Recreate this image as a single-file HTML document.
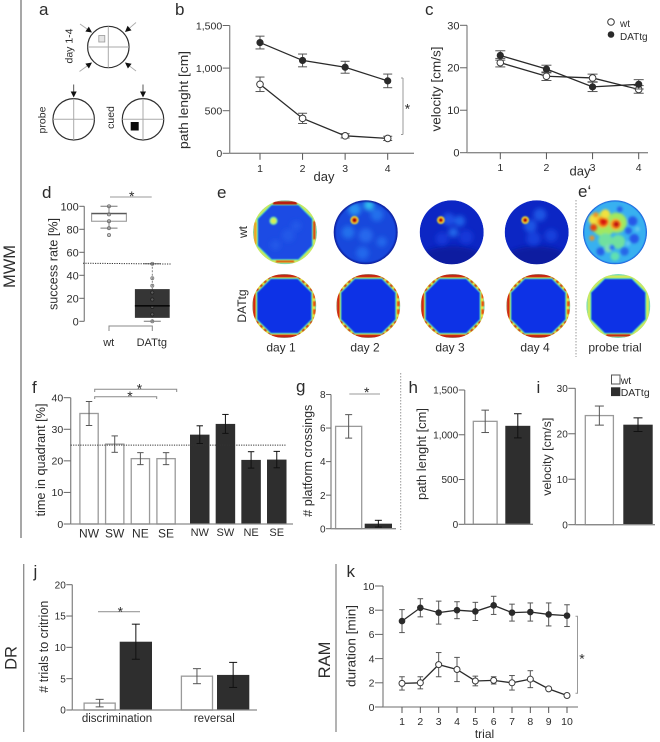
<!DOCTYPE html>
<html>
<head>
<meta charset="utf-8">
<title>Behavioural test panels</title>
<style>
html,body{margin:0;padding:0;background:#fff;}
#fig{display:block;width:660px;height:742px;filter:blur(0.3px);}
text{font-family:"Liberation Sans",sans-serif;fill:#2c2c2c;}
</style>
</head>
<body>
<svg id="fig" xmlns="http://www.w3.org/2000/svg" width="660" height="742" viewBox="0 0 660 742">
<defs>
<filter id="blurXS" x="-50%" y="-50%" width="200%" height="200%"><feGaussianBlur stdDeviation="0.4"/></filter>
<filter id="blurS" x="-20%" y="-20%" width="140%" height="140%"><feGaussianBlur stdDeviation="0.7"/></filter>
<filter id="blurM" x="-50%" y="-50%" width="200%" height="200%"><feGaussianBlur stdDeviation="1.3"/></filter>
<filter id="blurL" x="-50%" y="-50%" width="200%" height="200%"><feGaussianBlur stdDeviation="2.4"/></filter>
</defs>
</svg>
<script>
// ---- panel b: path length
const bDays = ['1','2','3','4'];
const bTicks = [0,500,1000,1500];
const bTickLabels = ['0','500','1,000','1,500'];
const bWt = [810,410,205,175];
const bWtErr = [85,60,25,25];
const bTg = [1300,1090,1010,850];
const bTgErr = [75,75,70,80];
// ---- panel c: velocity
const cDays = ['1','2','3','4'];
const cTicks = [0,10,20,30];
const cTickLabels = ['0','10','20','30'];
const cWt = [21.2,18,17.6,14.9];
const cWtErr = [1,1,0.9,0.9];
const cTg = [22.9,19.7,15.5,16.1];
const cTgErr = [1.1,0.9,1.1,1.1];
// ---- panel d: success rate
const dTicks = [0,20,40,60,80,100];
const dTickLabels = ['0','20','40','60','80','100'];
const dGroups = ['wt','DATtg'];
const dWtPoints = [100,93,87,81,75];
const dTgPoints = [50,37.5,31,25,19,12.5,6,0];
const dWtBox = [87,93.5,94];
const dTgBox = [3,13.5,28];
const dWtWhisker = [81,100];
const dTgWhisker = [0,50];
const dChance = 50.5;
// ---- panel f: time in quadrant
const fTicks = [0,10,20,30,40];
const fTickLabels = ['0','10','20','30','40'];
const fQuadrants = ['NW','SW','NE','SE'];
const fWt = [35,25.3,20.7,20.7];
const fWtErr = [3.8,2.6,1.9,1.9];
const fTg = [28.3,31.7,20.3,20.4];
const fTgErr = [2.8,3,2.6,2.6];
const fChance = 25;
// ---- panel g: platform crossings
const gTicks = [0,2,4,6,8];
const gTickLabels = ['0','2','4','6','8'];
const gValues = [6.1,0.3];
const gErr = [0.7,0.2];
// ---- panel h: path length probe
const hTicks = [0,500,1000,1500];
const hTickLabels = ['0','500','1,000','1,500'];
const hValues = [1150,1100];
const hErr = [125,135];
// ---- panel i: velocity probe
const iTicks = [0,10,20,30];
const iTickLabels = ['0','10','20','30'];
const iValues = [24,22];
const iErr = [2.1,1.5];
// ---- panel j: trials to criterion
const jTicks = [0,5,10,15,20];
const jTickLabels = ['0','5','10','15','20'];
const jGroups = ['discrimination','reversal'];
const jWt = [1.1,5.4];
const jWtErr = [0.6,1.2];
const jTg = [10.9,5.6];
const jTgErr = [2.8,2];
// ---- panel k: duration
const kTrials = ['1','2','3','4','5','6','7','8','9','10'];
const kTicks = [0,2,4,6,8,10];
const kTickLabels = ['0','2','4','6','8','10'];
const kWt = [1.95,2,3.5,3.1,2.15,2.2,2,2.3,1.5,0.95];
const kWtErr = [0.55,0.5,1,1,0.4,0.3,0.6,0.7,0,0];
const kTg = [7.1,8.2,7.8,8,7.9,8.4,7.8,7.85,7.65,7.55];
const kTgErr = [0.95,0.75,0.95,0.7,0.75,0.75,0.7,0.75,0.95,0.9];
// ---- panel e: occupancy heat map hot spots (relative position, spread, colour level)
const eRows = ['wt','DATtg'];
const eColumns = ['day 1','day 2','day 3','day 4','probe trial'];
const eWtDay1Spots = [[0.1,0.1,0.2,'#2458e8'],[-0.3,0.4,0.16,'#2458e8'],[0.35,-0.2,0.16,'#2458e8'],[-0.36,-0.36,0.13,'#78e0a0'],[-0.36,-0.36,0.08,'#d8f050']];
const eWtDay2Spots = [[0.1,-0.85,0.16,'#30c0f0'],[-0.35,-0.72,0.2,'#2890f0'],[0.35,-0.55,0.2,'#2470ec'],[-0.55,0.0,0.2,'#2470ec'],[0.0,0.1,0.22,'#2868ec'],[0.5,0.3,0.16,'#2468ec'],[-0.1,0.65,0.2,'#2468ec'],[-0.35,-0.38,0.13,'#f0e030'],[-0.35,-0.38,0.085,'#e02010'],[-0.35,-0.38,0.04,'#700000']];
const eWtDay3Spots = [[0.25,-0.35,0.17,'#1f60e8'],[0.05,-0.0,0.15,'#2468ea'],[-0.3,0.2,0.2,'#1438d8'],[0.45,0.15,0.22,'#1438d8'],[-0.1,-0.4,0.2,'#1a50e4'],[-0.34,-0.38,0.12,'#f0e030'],[-0.34,-0.38,0.075,'#e02010'],[-0.34,-0.38,0.035,'#700000']];
const eWtDay4Spots = [[0.1,-0.55,0.2,'#1c54e4'],[-0.2,-0.2,0.2,'#1c54e4'],[0.45,0.1,0.2,'#1840dc'],[-0.1,0.2,0.22,'#1840dc'],[-0.36,-0.38,0.12,'#f0e030'],[-0.36,-0.38,0.075,'#e02010'],[-0.36,-0.38,0.035,'#700000']];
const eWtProbeSpots = [[-0.35,-0.25,0.38,'#a0e860'],[0.05,-0.3,0.32,'#a0e860'],[-0.3,0.25,0.22,'#70e0a0'],[0.1,0.3,0.22,'#70e0a0'],[-0.2,0.5,0.13,'#80e0b0'],[0.0,0.75,0.14,'#60e0b0'],[-0.65,-0.4,0.17,'#f0e040'],[-0.3,-0.58,0.14,'#f0e040'],[-0.38,-0.33,0.19,'#f8a020'],[-0.36,-0.33,0.11,'#d81808'],[0.02,-0.25,0.17,'#f8a020'],[0.04,-0.25,0.09,'#c01008'],[-0.67,-0.15,0.11,'#e84010'],[-0.72,0.18,0.08,'#f09020'],[-0.6,-0.55,0.08,'#f09020'],[0.55,-0.35,0.15,'#2858e8'],[0.6,0.2,0.15,'#2858e8'],[0.42,-0.05,0.11,'#2860e8'],[-0.45,0.6,0.13,'#2860e8'],[0.3,0.6,0.13,'#2868e8'],[0.15,-0.72,0.09,'#2860e8'],[-0.1,0.48,0.08,'#2a70f0'],[0.7,-0.1,0.08,'#60c8f0'],[0.4,0.35,0.08,'#60c8f0']];
const eTgRingTop = [1,1,1,1,0.45];

const svg = document.getElementById('fig');
const NS = 'http://www.w3.org/2000/svg';
const INK = '#2a2a2a', AXIS = '#8a8a8a', ERR = '#555', BAR = '#2e2e2e', BARLINE = '#9a9a9a';

function mk(tag, attrs, name, parent) {
  const el = document.createElementNS(NS, tag);
  for (const k in attrs) el.setAttribute(k, attrs[k]);
  
  
  (parent || svg).appendChild(el);
  return el;
}
function line(x1, y1, x2, y2, stroke, w, name, parent, dash) {
  const a = {x1, y1, x2, y2, stroke, 'stroke-width': w};
  if (dash) a['stroke-dasharray'] = dash;
  return mk('line', a, name, parent);
}
function label(x, y, str, size, anchor, name, rot, parent) {
  const a = {x, y, 'font-size': size, 'text-anchor': anchor || 'middle'};
  if (rot) a.transform = 'rotate(' + rot + ' ' + x + ' ' + y + ')';
  const el = mk('text', a, name, parent);
  el.textContent = str;
  return el;
}
function ytitle(x, y, str, size, name, tl) {
  const el = label(x, y, str, size, 'middle', name, -90);
  if (tl) { el.setAttribute('textLength', tl); el.setAttribute('lengthAdjust', 'spacingAndGlyphs'); }
  return el;
}
function scale(d0, d1, r0, r1) { return v => r0 + (v - d0) * (r1 - r0) / (d1 - d0); }

function yAxis(x, y, ticks, labels, len, size, name) {
  const vals = ticks.map(y);
  const g = mk('g', {}, name);
  line(x, Math.min.apply(null, vals), x, Math.max.apply(null, vals), AXIS, 1.3, name + '-line', g);
  ticks.forEach((t, i) => {
    line(x - len, y(t), x, y(t), '#666', 1, name + '-tick', g);
    label(x - len - 0.5, y(t) + size * 0.36, labels[i], size, 'end', name + '-tick-label', 0, g);
  });
}
function xAxisLine(x0, x1, y, name) { line(x0, y, x1, y, AXIS, 1.3, name); }
function xTicks(x, labels, y0, len, baseline, size, name) {
  labels.forEach((t, i) => {
    line(x(i), y0, x(i), y0 + len, '#555', 1, name + '-tick');
    label(x(i), baseline, t, size, 'middle', name + '-tick-label');
  });
}
function errorBar(cx, top, bot, cap, name, color, g) {
  line(cx, top, cx, bot, color || ERR, 1, name + '-error', g);
  line(cx - cap, top, cx + cap, top, color || ERR, 1, name + '-error-cap', g);
  line(cx - cap, bot, cx + cap, bot, color || ERR, 1, name + '-error-cap', g);
}
function lineSeries(x, y, vals, errs, fill, r, cap, name) {
  const g = mk('g', {}, name);
  vals.forEach((v, i) => { if (errs[i] > 0) errorBar(x(i), y(v + errs[i]), y(v - errs[i]), cap, name, ERR, g); });
  mk('polyline', {points: vals.map((v, i) => x(i) + ',' + y(v)).join(' '), fill: 'none', stroke: INK, 'stroke-width': 1.3}, name + '-line', g);
  vals.forEach((v, i) => {
    mk('circle', {cx: x(i), cy: y(v), r, fill, stroke: fill === '#fff' ? '#3a3a3a' : '#2a2a2a', 'stroke-width': fill === '#fff' ? 1 : 0.6}, name + '-point', g);
  });
}
function bar(x0, x1, y, v, err, dark, cap, name) {
  const top = y(v), base = y(0);
  const g = mk('g', {}, name);
  if (dark) mk('rect', {x: x0, y: top, width: x1 - x0, height: base - top, fill: BAR}, name + '-rect', g);
  else mk('rect', {x: x0 + 0.6, y: top, width: x1 - x0 - 1.2, height: base - top, fill: '#fff', stroke: BARLINE, 'stroke-width': 1.3}, name + '-rect', g);
  errorBar((x0 + x1) / 2, y(v + err), y(v - err), cap, name, dark ? '#111' : ERR, g);
}
function sigLine(x0, x1, y, sx, sy, size, name) {
  line(x0, y, x1, y, '#999', 1.1, name);
  label(sx, sy, '*', size, 'middle', name + '-star');
}
function panelLetter(x, y, s) { label(x, y, s, 17, 'start', 'panel-letter-' + s.charAt(0)); }

// ---------- section rules and names
line(21, 0, 21, 538, '#8a8a8a', 1.5, 'mwm-section-rule');
line(23.7, 564, 23.7, 732, '#8a8a8a', 1.3, 'dr-section-rule');
line(336, 564, 336, 732, '#8a8a8a', 1.3, 'ram-section-rule');
label(15, 266.5, 'MWM', 16.5, 'middle', 'mwm-section-label', -90);
label(16.7, 658, 'DR', 16.5, 'middle', 'dr-section-label', -90);
label(330, 660, 'RAM', 16.5, 'middle', 'ram-section-label', -90);

panelLetter(39, 15, 'a'); panelLetter(175, 15, 'b'); panelLetter(425, 15, 'c');
panelLetter(42, 198, 'd'); panelLetter(217, 198, 'e'); panelLetter(578, 197, 'e‘');
panelLetter(32, 393, 'f'); panelLetter(296, 392, 'g'); panelLetter(408.5, 393, 'h');
panelLetter(536.5, 393, 'i'); panelLetter(33.5, 577, 'j'); panelLetter(346.5, 577, 'k');

// ---------- panel a schematic
function maze(cx, cy, name) {
  const g = mk('g', {}, name);
  mk('circle', {cx, cy, r: 20.7, fill: '#fff', stroke: '#2e2e2e', 'stroke-width': 1.2}, name + '-circle', g);
  line(cx - 20.7, cy, cx + 20.7, cy, '#aaa', 1, name + '-cross-h', g);
  line(cx, cy - 20.7, cx, cy + 20.7, '#aaa', 1, name + '-cross-v', g);
}
function arrow(x0, y0, x1, y1, name) {
  const dx = x1 - x0, dy = y1 - y0, l = Math.hypot(dx, dy), ux = dx / l, uy = dy / l;
  const bx = x1 - ux * 6, by = y1 - uy * 6;
  line(x0, y0, bx, by, dx !== 0 ? '#aaa' : '#444', 0.9, name + '-shaft');
  mk('polygon', {points: x1 + ',' + y1 + ' ' + (bx - uy * 3) + ',' + (by + ux * 3) + ' ' + (bx + uy * 3) + ',' + (by - ux * 3), fill: '#111'}, name + '-head');
}
maze(108.3, 47, 'training-maze');
maze(73.7, 119.3, 'probe-maze');
maze(143, 119.3, 'cued-maze');
mk('rect', {x: 98.8, y: 35.5, width: 6, height: 6.5, fill: '#e4e4e4', stroke: '#999', 'stroke-width': 0.8}, 'hidden-platform');
mk('rect', {x: 130.7, y: 122, width: 8, height: 8.5, fill: '#0a0a0a'}, 'cued-platform');
arrow(80, 24, 92, 32.5, 'start-arrow-nw');
arrow(136, 22.5, 125, 32, 'start-arrow-ne');
arrow(79.5, 71.5, 92, 62.5, 'start-arrow-sw');
arrow(136, 71, 125, 62.5, 'start-arrow-se');
arrow(73.7, 84.5, 73.7, 97.5, 'probe-arrow');
arrow(143, 84.5, 143, 97.5, 'cued-arrow');
label(72.5, 46, 'day 1-4', 10.5, 'middle', 'training-label', -90);
label(45.5, 120, 'probe', 10.5, 'middle', 'probe-label', -90);
label(114, 117.5, 'cued', 10.5, 'middle', 'cued-label', -90);

// ---------- panel b
(function () {
  const y = scale(0, 1500, 153.3, 25.5);
  const x = scale(0, 3, 260, 387.7);
  yAxis(229.7, y, bTicks, bTickLabels, 7, 10.5, 'path-y-axis');
  xAxisLine(229.7, 414, 153.3, 'path-x-axis');
  xTicks(x, bDays, 153.3, 6.5, 172, 10.5, 'path-x-axis');
  lineSeries(x, y, bWt, bWtErr, '#fff', 3.3, 4.5, 'path-series-wt');
  lineSeries(x, y, bTg, bTgErr, '#2a2a2a', 3.3, 4.5, 'path-series-dattg');
  ytitle(188, 100, 'path lenght [cm]', 13, 'path-y-title', 98);
  label(324, 181, 'day', 13, 'middle', 'path-x-title');
  line(401, 78, 403, 78, '#999', 1, 'path-bracket-top');
  line(401, 134.5, 403, 134.5, '#999', 1, 'path-bracket-bottom');
  line(403, 78, 403, 134.5, '#999', 1, 'path-bracket');
  label(407.5, 113.7, '*', 14, 'middle', 'path-significance-star');
})();

// ---------- panel c
(function () {
  const y = scale(0, 30, 152.7, 25.3);
  const x = scale(0, 3, 500.3, 638.7);
  yAxis(467, y, cTicks, cTickLabels, 7, 11, 'velocity-y-axis');
  xAxisLine(467, 648, 152.7, 'velocity-x-axis');
  xTicks(x, cDays, 152.7, 6.5, 171, 10.5, 'velocity-x-axis');
  lineSeries(x, y, cWt, cWtErr, '#fff', 3.3, 5, 'velocity-series-wt');
  lineSeries(x, y, cTg, cTgErr, '#2a2a2a', 3.3, 5, 'velocity-series-dattg');
  ytitle(440.5, 89, 'velocity [cm/s]', 13, 'velocity-y-title', 85);
  label(569.5, 175.5, 'day', 13, 'start', 'velocity-x-title');
  mk('circle', {cx: 611, cy: 22, r: 3.3, fill: '#fff', stroke: '#333', 'stroke-width': 1}, 'legend-marker-wt');
  mk('circle', {cx: 611, cy: 34.5, r: 3.3, fill: '#2a2a2a'}, 'legend-marker-dattg');
  label(620, 27, 'wt', 10, 'start', 'legend-label-wt');
  label(620, 40, 'DATtg', 10, 'start', 'legend-label-dattg');
})();

// ---------- panel d
(function () {
  const y = scale(0, 100, 321.3, 206.3);
  const x = scale(0, 1, 109, 152.3);
  yAxis(84.3, y, dTicks, dTickLabels, 5, 11, 'success-y-axis');
  // whiskers
  line(x(0), y(dWtWhisker[0]), x(0), y(dWtWhisker[1]), '#777', 0.9, 'success-whisker-wt');
  line(x(0) - 8.5, y(dWtWhisker[0]), x(0) + 8.5, y(dWtWhisker[0]), '#777', 1, 'success-whisker-cap-wt');
  line(x(0) - 8.5, y(dWtWhisker[1]), x(0) + 8.5, y(dWtWhisker[1]), '#777', 1, 'success-whisker-cap-wt');
  line(x(1), y(dTgWhisker[0]), x(1), y(dTgWhisker[1]), '#777', 0.9, 'success-whisker-dattg', null, '2 1.5');
  line(x(1) - 8.5, y(dTgWhisker[0]), x(1) + 8.5, y(dTgWhisker[0]), '#777', 1, 'success-whisker-cap-dattg');
  line(x(1) - 8.5, y(dTgWhisker[1]), x(1) + 8.5, y(dTgWhisker[1]), '#777', 1, 'success-whisker-cap-dattg');
  // boxes
  mk('rect', {x: x(0) - 17.4, y: y(dWtBox[2]), width: 34.8, height: y(dWtBox[0]) - y(dWtBox[2]), fill: '#fff', stroke: '#999', 'stroke-width': 1.1}, 'success-box-wt');
  line(x(0) - 17.4, y(dWtBox[1]), x(0) + 17.4, y(dWtBox[1]), '#444', 1, 'success-median-wt');
  mk('rect', {x: x(1) - 17.4, y: y(dTgBox[2]), width: 34.8, height: y(dTgBox[0]) - y(dTgBox[2]), fill: '#353535'}, 'success-box-dattg');
  dWtPoints.forEach(v => mk('circle', {cx: x(0), cy: y(v), r: 1.6, fill: 'rgba(150,150,150,0.6)', stroke: '#666', 'stroke-width': 0.7}, 'success-point-wt'));
  dTgPoints.forEach(v => mk('circle', {cx: x(1), cy: y(v), r: 1.6, fill: 'rgba(130,130,130,0.5)', stroke: v < dTgBox[2] && v > dTgBox[0] ? '#1c1c1c' : '#777', 'stroke-width': 0.7}, 'success-point-dattg'));
  line(x(1) - 17.4, y(dTgBox[1]), x(1) + 17.4, y(dTgBox[1]), '#080808', 1.6, 'success-median-dattg');
  line(83, y(dChance), 171.7, y(dChance) + 0.8, '#333', 1, 'success-chance-line', null, '1.2 1.2');
  sigLine(110, 151.7, 197, 131.7, 201, 14, 'success-significance');
  mk('polyline', {points: x(0) + ',331 ' + x(0) + ',326 ' + x(1) + ',326 ' + x(1) + ',331', fill: 'none', stroke: '#888', 'stroke-width': 1}, 'success-group-bracket');
  label(x(0) - 0.3, 346, dGroups[0], 11, 'middle', 'success-group-label-wt');
  label(x(1) - 0.5, 346, dGroups[1], 11, 'middle', 'success-group-label-dattg');
  ytitle(57.5, 264, 'success rate [%]', 12.5, 'success-y-title', 92);
})();

// ---------- panel e heat maps
let clipCount = 0;
function heatClip(cx, cy, r) {
  const id = 'hc' + (clipCount++);
  const cp = document.createElementNS(NS, 'clipPath');
  cp.setAttribute('id', id);
  const c = document.createElementNS(NS, 'circle');
  c.setAttribute('cx', cx); c.setAttribute('cy', cy); c.setAttribute('r', r);
  cp.appendChild(c);
  svg.querySelector('defs').appendChild(cp);
  return id;
}
function octo(cx, cy, a, b) {
  const p = [[-b,-a],[b,-a],[a,-b],[a,b],[b,a],[-b,a],[-a,b],[-a,-b]];
  return p.map(q => (cx + q[0]) + ',' + (cy + q[1])).join(' ');
}
function wallRing(g, cx, cy, r, level, interior) {
  mk('circle', {cx, cy, r, fill: '#74dcbc'}, 'heatmap-rim', g);
  const wallColor = level > 0.5 ? '#f0e834' : '#d4ea54';
  mk('polygon', {points: octo(cx, cy, r * 0.955, r * 0.45), fill: wallColor, filter: 'url(#blurXS)'}, 'heatmap-wall-halo', g);
  const hot = mk('g', {filter: 'url(#blurXS)'}, 'heatmap-wall-hot', g);
  const a = r * 0.94, b = r * 0.4;
  if (level >= 1) {
    line(cx - b, cy - a, cx + b, cy - a, '#c81c0c', 3, 'heatmap-wall-top', hot);
    line(cx - b, cy + a, cx + b, cy + a, '#c81c0c', 3, 'heatmap-wall-bottom', hot);
    line(cx - a, cy - b, cx - a, cy + b, '#d4240c', 2.8, 'heatmap-wall-left', hot);
    line(cx + a, cy - b, cx + a, cy + b, '#e85010', 2.6, 'heatmap-wall-right', hot, '5 3');
    const d = [[1, -1], [1, 1], [-1, 1], [-1, -1]];
    d.forEach(q => line(cx + q[0] * (b + 1), cy + q[1] * (a - 1), cx + q[0] * (a - 1), cy + q[1] * (b + 1), '#d02c0c', 2.3, 'heatmap-wall-corner', hot, '3 2.6'));
  }
  mk('polygon', {points: octo(cx, cy, r * 0.875, r * 0.43), fill: '#58dcc0', filter: 'url(#blurXS)'}, 'heatmap-inner-edge', g);
  mk('polygon', {points: octo(cx, cy, r * 0.84, r * 0.415), fill: interior, filter: 'url(#blurXS)'}, 'heatmap-interior', g);
}
function spots(g, cx, cy, r, list, f, fineFilter) {
  const big = mk('g', {filter: 'url(#' + f + ')'}, 'heatmap-spots-diffuse', g);
  const fine = mk('g', {filter: 'url(#' + fineFilter + ')'}, 'heatmap-spots-sharp', g);
  list.forEach(s => mk('circle', {cx: cx + s[0] * r, cy: cy + s[1] * r, r: s[2] * r, fill: s[3]}, 'heatmap-spot', s[2] > 0.14 ? big : fine));
}
function heatmap(cx, cy, name, kind, list) {
  const r = 32;
  const g = mk('g', {'clip-path': 'url(#' + heatClip(cx, cy, r) + ')'}, name);
  if (kind === 'tg' || kind === 'tgprobe') {
    wallRing(g, cx, cy, r, kind === 'tg' ? 1 : 0.4, '#0c30e6');
    if (kind === 'tgprobe') {
      mk('rect', {x: cx - 12, y: cy + r * 0.885, width: 24, height: 2.2, fill: '#c81c0c', filter: 'url(#blurXS)'}, 'heatmap-wall-hotspot', g);
    }
  } else if (kind === 'wall') {
    wallRing(g, cx, cy, r, 0, '#1a4ce4');
    mk('rect', {x: cx - 12, y: cy - r + 1, width: 24, height: 3.2, fill: '#b81808', filter: 'url(#blurXS)'}, 'heatmap-wall-hotspot', g);
    mk('rect', {x: cx + r * 0.88, y: cy - 11, width: 2.2, height: 18, fill: '#d83c10', filter: 'url(#blurXS)'}, 'heatmap-wall-hotspot', g);
    mk('rect', {x: cx - r * 0.97, y: cy - 10, width: 2.4, height: 22, fill: '#f0a020', filter: 'url(#blurXS)'}, 'heatmap-wall-hotspot', g);
    mk('rect', {x: cx - 9, y: cy + r * 0.88, width: 18, height: 2, fill: '#e06010', filter: 'url(#blurXS)'}, 'heatmap-wall-hotspot', g);
    spots(g, cx, cy, r, list, 'blurL', 'blurS');
  } else if (kind === 'bright') {
    mk('circle', {cx, cy, r, fill: '#1848dc'}, 'heatmap-field', g);
    spots(g, cx, cy, r, list, 'blurL', 'blurS');
    mk('circle', {cx, cy, r: r - 0.5, fill: 'none', stroke: '#0a1c98', 'stroke-width': 2, filter: 'url(#blurS)'}, 'heatmap-edge', g);
  } else if (kind === 'dark') {
    mk('circle', {cx, cy, r, fill: '#0c26c4'}, 'heatmap-field', g);
    mk('ellipse', {cx, cy: cy + 26, rx: 32, ry: 12, fill: '#0a1ca0', filter: 'url(#blurL)'}, 'heatmap-low-zone', g);
    spots(g, cx, cy, r, list, 'blurL', 'blurS');
  } else {
    mk('circle', {cx, cy, r, fill: '#38b0f0'}, 'heatmap-field', g);
    spots(g, cx, cy, r, list, 'blurM', 'blurM');
    mk('circle', {cx, cy, r: r - 0.4, fill: 'none', stroke: '#1848d8', 'stroke-width': 1.2, filter: 'url(#blurXS)'}, 'heatmap-edge', g);
  }
}
heatmap(285, 232.3, 'heatmap-wt-day1', 'wall', eWtDay1Spots);
heatmap(365.7, 232.3, 'heatmap-wt-day2', 'bright', eWtDay2Spots);
heatmap(451.7, 232.3, 'heatmap-wt-day3', 'dark', eWtDay3Spots);
heatmap(536.7, 232.3, 'heatmap-wt-day4', 'dark', eWtDay4Spots);
heatmap(615, 232.3, 'heatmap-wt-probe', 'probe', eWtProbeSpots);
heatmap(284.3, 306, 'heatmap-dattg-day1', 'tg', []);
heatmap(368.3, 306, 'heatmap-dattg-day2', 'tg', []);
heatmap(452.7, 306, 'heatmap-dattg-day3', 'tg', []);
heatmap(538.3, 306, 'heatmap-dattg-day4', 'tg', []);
heatmap(618.3, 306, 'heatmap-dattg-probe', 'tgprobe', []);
const eLabelX = [281, 365, 450, 535, 615];
eColumns.forEach((c, i) => label(eLabelX[i], 351.5, c, 12, 'middle', 'heatmap-column-label'));
label(247, 232, eRows[0], 12, 'middle', 'heatmap-row-label-wt', -90);
label(246, 306, eRows[1], 12, 'middle', 'heatmap-row-label-dattg', -90);
line(576, 200, 576, 357, '#999', 1, 'probe-separator', null, '1.5 1.5');

// ---------- panel f
(function () {
  const y = scale(0, 40, 524, 397.7);
  const xw = i => 79.3 + i * 25.67, xt = i => 190 + i * 25.67, w = 19.5;
  yAxis(70.7, y, fTicks, fTickLabels, 7, 10.5, 'quadrant-y-axis');
  fWt.forEach((v, i) => bar(xw(i), xw(i) + w, y, v, fWtErr[i], false, 3.2, 'quadrant-bar-wt-' + fQuadrants[i].toLowerCase()));
  fTg.forEach((v, i) => bar(xt(i), xt(i) + w, y, v, fTgErr[i], true, 3.2, 'quadrant-bar-dattg-' + fQuadrants[i].toLowerCase()));
  xAxisLine(70.7, 293, 524, 'quadrant-x-axis');
  line(70.7, y(fChance), 286, y(fChance), '#333', 1, 'quadrant-chance-line', null, '1.2 1.2');
  fQuadrants.forEach((q, i) => {
    label(xw(i) + w / 2, 537.5, q, 12, 'middle', 'quadrant-label-wt');
    label(xt(i) + w / 2, 536, q, 11, 'middle', 'quadrant-label-dattg');
  });
  mk('polyline', {points: '94.7,392 94.7,389.3 176.7,389.3 176.7,392', fill: 'none', stroke: '#888', 'stroke-width': 1}, 'quadrant-bracket-se');
  mk('polyline', {points: '94.7,399 94.7,396.7 156.7,396.7 156.7,399', fill: 'none', stroke: '#888', 'stroke-width': 1}, 'quadrant-bracket-ne');
  label(139.5, 393.7, '*', 14, 'middle', 'quadrant-star-se');
  label(130, 401, '*', 14, 'middle', 'quadrant-star-ne');
  ytitle(45, 460, 'time in quadrant [%]', 12.5, 'quadrant-y-title', 113);
})();

// ---------- panel g
(function () {
  const y = scale(0, 8, 528.7, 394.5);
  yAxis(331, y, gTicks, gTickLabels, 5, 10, 'crossings-y-axis');
  bar(335, 362.3, y, gValues[0], gErr[0], false, 3.5, 'crossings-bar-wt');
  bar(364.7, 392, y, gValues[1], gErr[1], true, 3.5, 'crossings-bar-dattg');
  xAxisLine(331, 396, 528.7, 'crossings-x-axis');
  sigLine(349.3, 380, 394, 366.7, 397, 14, 'crossings-significance');
  ytitle(312, 460.7, '# platform crossings', 12.5, 'crossings-y-title', 112);
})();
line(400.7, 373, 400.7, 530, '#999', 1, 'panel-separator', null, '1.5 1.5');

// ---------- panel h
(function () {
  const y = scale(0, 1500, 524.3, 390);
  yAxis(464.7, y, hTicks, hTickLabels, 6, 10, 'probe-path-y-axis');
  bar(472.7, 497.7, y, hValues[0], hErr[0], false, 3.8, 'probe-path-bar-wt');
  bar(505.3, 530.3, y, hValues[1], hErr[1], true, 3.8, 'probe-path-bar-dattg');
  xAxisLine(464.7, 533, 524.3, 'probe-path-x-axis');
  ytitle(426, 454, 'path lenght [cm]', 12.5, 'probe-path-y-title', 92);
})();

// ---------- panel i
(function () {
  const y = scale(0, 30, 524.7, 388.3);
  yAxis(575.3, y, iTicks, iTickLabels, 7, 10, 'probe-velocity-y-axis');
  bar(584.7, 614, y, iValues[0], iErr[0], false, 4.5, 'probe-velocity-bar-wt');
  bar(623.3, 652.7, y, iValues[1], iErr[1], true, 4.5, 'probe-velocity-bar-dattg');
  xAxisLine(575.3, 655, 524.7, 'probe-velocity-x-axis');
  ytitle(551, 456.7, 'velocity [cm/s]', 12, 'probe-velocity-y-title', 78);
  mk('rect', {x: 611.5, y: 375, width: 8.5, height: 9, fill: '#fff', stroke: '#555', 'stroke-width': 1}, 'legend-swatch-wt');
  mk('rect', {x: 611, y: 387.3, width: 9.3, height: 8.8, fill: BAR}, 'legend-swatch-dattg');
  label(620.7, 384, 'wt', 10.5, 'start', 'legend-swatch-label-wt');
  label(620.7, 396, 'DATtg', 10.5, 'start', 'legend-swatch-label-dattg');
})();

// ---------- panel j
(function () {
  const y = scale(0, 20, 710, 584.7);
  const xw = i => 83.5 + i * 97.3, xt = i => 119.7 + i * 97.3, w = 32.3;
  yAxis(72.3, y, jTicks, jTickLabels, 6, 10, 'trials-y-axis');
  jWt.forEach((v, i) => bar(xw(i), xw(i) + w, y, v, jWtErr[i], false, 4, 'trials-bar-wt-' + jGroups[i]));
  jTg.forEach((v, i) => bar(xt(i), xt(i) + w, y, v, jTgErr[i], true, 4, 'trials-bar-dattg-' + jGroups[i]));
  xAxisLine(72.3, 257, 710, 'trials-x-axis');
  jGroups.forEach((g, i) => label(i === 0 ? 117 : 214.3, 722, g, 11.5, 'middle', 'trials-group-label'));
  sigLine(98, 140, 611.7, 120.3, 616.7, 14, 'trials-significance');
  ytitle(48, 646.7, '# trials to critrion', 12.5, 'trials-y-title', 92);
})();

// ---------- panel k
(function () {
  const y = scale(0, 10, 707, 586);
  const x = scale(0, 9, 402, 567);
  yAxis(383, y, kTicks, kTickLabels, 8, 10.5, 'duration-y-axis');
  xAxisLine(383, 578, 707, 'duration-x-axis');
  xTicks(x, kTrials, 707, 6, 725, 10.5, 'duration-x-axis');
  lineSeries(x, y, kWt, kWtErr, '#fff', 3, 2.8, 'duration-series-wt');
  lineSeries(x, y, kTg, kTgErr, '#2a2a2a', 3, 2.8, 'duration-series-dattg');
  ytitle(355.5, 646, 'duration [min]', 13, 'duration-y-title', 82);
  label(484.5, 738, 'trial', 12, 'middle', 'duration-x-title');
  mk('polyline', {points: '575.5,616.3 577.5,616.3 577.5,693.3 575.5,693.3', fill: 'none', stroke: '#999', 'stroke-width': 1}, 'duration-bracket');
  label(582, 663.7, '*', 14, 'middle', 'duration-significance-star');
})();
</script>
</body>
</html>
